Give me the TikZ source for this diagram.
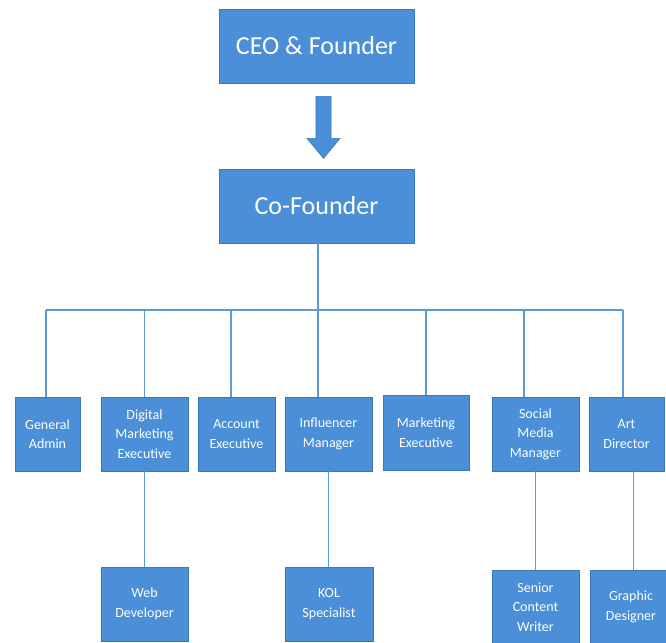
\documentclass[tikz,border=0pt]{standalone}
\usepackage{fontspec}
\setmainfont{Carlito}
\usetikzlibrary{calc}
\definecolor{boxfill}{HTML}{4A8FD8}
\definecolor{boxline}{HTML}{3B77B5}
\definecolor{connc}{HTML}{5B9BD5}
\begin{document}
\begin{tikzpicture}[x=1pt,y=-1pt,
  box/.style={draw=boxline, line width=0.8pt, fill=boxfill, text=white, align=center, inner sep=0pt,
    minimum height=74pt, font=\fontsize{14}{19.5}\selectfont},
  big/.style={box, minimum width=195pt, font=\fontsize{26}{30}\selectfont},
  conn/.style={draw=connc, line width=1.4pt}]
\useasboundingbox (0,0) rectangle (666,642);
\clip (0,0) rectangle (666,642);
\node[big] (ceo) at (316.5,46) {CEO \& Founder};
\node[big] (cof) at (316.5,206) {Co-Founder};
\fill[boxfill, draw=boxline, line width=0.6pt]
  ($(ceo.south)+(-0.5,13)$) -- ($(ceo.south)+(14.5,13)$) -- ($(ceo.south)+(14.5,55)$) --
  ($(ceo.south)+(23.5,55)$) -- ($(ceo.south)+(7,75)$) -- ($(ceo.south)+(-9.5,55)$) --
  ($(ceo.south)+(-0.5,55)$) -- cycle;
% second level
\node[box, minimum width=65pt] (ga) at (47.5,434) {General\\Admin};
\node[box, minimum width=87pt] (dme) at (144.5,434) {Digital\\Marketing\\Executive};
\node[box, minimum width=77pt] (ae) at (236.5,434) {Account\\Executive};
\node[box, minimum width=87pt] (im) at (328.5,434) {Influencer\\Manager};
\node[box, minimum width=86pt, minimum height=75pt] (me) at (426,432.5) {Marketing\\Executive};
\node[box, minimum width=87pt] (smm) at (535.5,434) {Social\\Media\\Manager};
\node[box, minimum width=75pt] (ad) at (626.5,434) {Art\\Director};
% third level
\node[box, minimum width=87pt] (wd) at (144.5,604) {Web\\Developer};
\node[box, minimum width=88pt] (kol) at (329,604) {KOL\\Specialist};
\node[box, minimum width=87pt] (scw) at (535.5,607) {Senior\\Content\\Writer};
\node[box, minimum width=82pt] (gd) at (631,607) {Graphic\\Designer};
% connectors
\coordinate (busL) at (46,310);
\coordinate (busR) at (623,310);
\draw[conn] ([xshift=1.5pt]cof.south) -- ([xshift=1.5pt]cof.south |- busL);
\draw[conn] (busL) -- (busR);
\draw[conn] ([xshift=-1.5pt]ga.north) -- ([xshift=-1.5pt]ga.north |- busL);
\draw[conn] (dme.north) -- (dme.north |- busL);
\draw[conn] ([xshift=-5.5pt]ae.north) -- ([xshift=-5.5pt]ae.north |- busL);
\draw[conn] ([xshift=-10.5pt]im.north) -- ([xshift=-10.5pt]im.north |- busL);
\draw[conn] (me.north) -- (me.north |- busL);
\draw[conn] ([xshift=-11.5pt]smm.north) -- ([xshift=-11.5pt]smm.north |- busL);
\draw[conn] ([xshift=-3.5pt]ad.north) -- ([xshift=-3.5pt]ad.north |- busL);
\draw[conn] (dme.south) -- (dme.south |- wd.north);
\draw[conn] (im.south) -- (im.south |- kol.north);
\draw[conn] (smm.south) -- (smm.south |- scw.north);
\draw[conn] ([xshift=7pt]ad.south) -- ([xshift=7pt]ad.south |- gd.north);
\end{tikzpicture}
\end{document}
